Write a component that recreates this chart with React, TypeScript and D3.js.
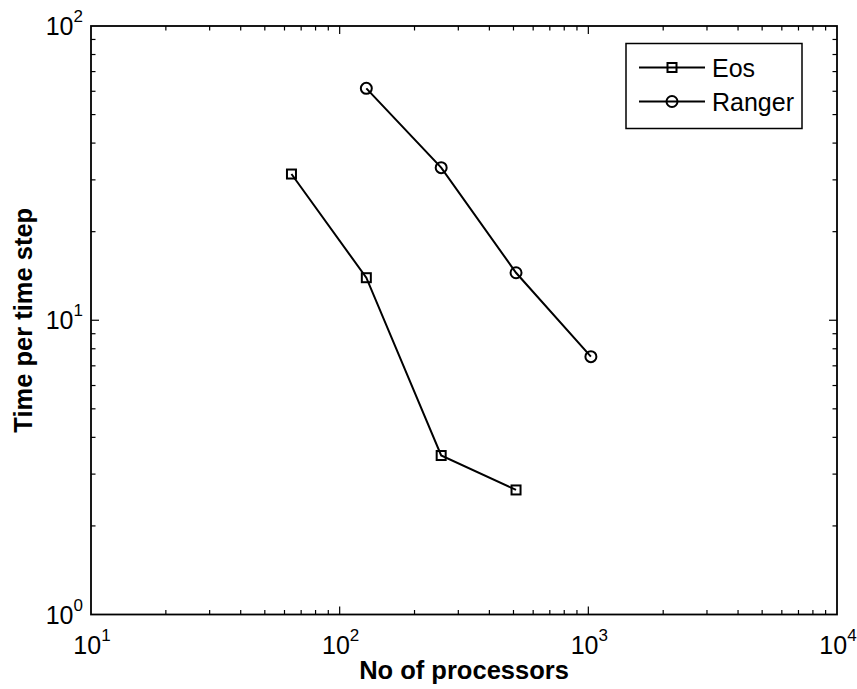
import React, { useEffect, useRef } from 'react';
import * as d3 from 'd3';

// processors / time per time step
const eosProcs = [64, 128, 256, 512];
const eosTime = [31.4, 13.95, 3.47, 2.65];
const rangerProcs = [128, 256, 512, 1024];
const rangerTime = [61.4, 33.0, 14.5, 7.52];
const xTickExps = [1, 2, 3, 4];
const yTickExps = [0, 1, 2];
const seriesNames = ['Eos', 'Ranger'];

const W = 857, H = 689;
const margin = { top: 26, right: 20, bottom: 74.5, left: 91 };

export default function App() {
  const ref = useRef<SVGSVGElement>(null);

  useEffect(() => {
    const svg = d3.select(ref.current);
    svg.selectAll('*').remove();
    const font = 'Arial, Liberation Sans, Helvetica, sans-serif';

    const x = d3.scaleLog().domain([10, 10000]).range([margin.left, W - margin.right]);
    const y = d3.scaleLog().domain([1, 100]).range([H - margin.bottom, margin.top]);
    const [x0, x1] = x.range();
    const [y0, y1] = y.range();

    svg.append('rect').attr('width', W).attr('height', H).attr('fill', '#fff');

    const g = svg.append('g');

    // minor + major ticks on all four sides
    const xt = x.ticks();
    xt.forEach(v => {
      const major = Math.abs(Math.log10(v) - Math.round(Math.log10(v))) < 1e-9;
      const len = major ? 8 : 4.5;
      const px = x(v);
      if (px <= x0 + 0.5 || px >= x1 - 0.5) return;
      g.append('line').attr('x1', px).attr('x2', px).attr('y1', y0).attr('y2', y0 - len);
      g.append('line').attr('x1', px).attr('x2', px).attr('y1', y1).attr('y2', y1 + len);
    });
    const yt = y.ticks();
    yt.forEach(v => {
      const major = Math.abs(Math.log10(v) - Math.round(Math.log10(v))) < 1e-9;
      const len = major ? 8 : 4.5;
      const py = y(v);
      if (py >= y0 - 0.5 || py <= y1 + 0.5) return;
      g.append('line').attr('y1', py).attr('y2', py).attr('x1', x0).attr('x2', x0 + len);
      g.append('line').attr('y1', py).attr('y2', py).attr('x1', x1).attr('x2', x1 - len);
    });
    g.selectAll('line').attr('stroke', '#000').attr('stroke-width', 1.2);

    svg.append('rect')
      .attr('x', x0).attr('y', y1).attr('width', x1 - x0).attr('height', y0 - y1)
      .attr('fill', 'none').attr('stroke', '#000').attr('stroke-width', 1.8);

    // tick labels
    xTickExps.forEach(e => {
      const t = svg.append('text')
        .attr('x', x(Math.pow(10, e)) + 1).attr('y', y0 + 39)
        .attr('text-anchor', 'middle').attr('font-family', font).attr('font-size', 25);
      t.append('tspan').text('10');
      t.append('tspan').attr('dy', -13).attr('font-size', 17).text(String(e));
    });
    yTickExps.forEach(e => {
      const t = svg.append('text')
        .attr('x', x0 - 8).attr('y', y(Math.pow(10, e)) + 9)
        .attr('text-anchor', 'end').attr('font-family', font).attr('font-size', 25);
      t.append('tspan').text('10');
      t.append('tspan').attr('dy', -13).attr('font-size', 17).text(String(e));
    });

    // axis titles
    svg.append('text')
      .attr('x', (x0 + x1) / 2).attr('y', 679)
      .attr('text-anchor', 'middle').attr('font-family', font)
      .attr('font-weight', 'bold').attr('font-size', 25.5)
      .text('No of processors');
    svg.append('text')
      .attr('transform', `translate(32, ${(y0 + y1) / 2}) rotate(-90)`)
      .attr('text-anchor', 'middle').attr('font-family', font)
      .attr('font-weight', 'bold').attr('font-size', 25.5)
      .text('Time per time step');

    const line = d3.line<[number, number]>().x(d => x(d[0])).y(d => y(d[1]));
    const eos: [number, number][] = eosProcs.map((p, i) => [p, eosTime[i]]);
    const ranger: [number, number][] = rangerProcs.map((p, i) => [p, rangerTime[i]]);

    const drawSquare = (sel: any, cx: number, cy: number) =>
      sel.append('rect').attr('x', cx - 4.5).attr('y', cy - 4.5).attr('width', 9).attr('height', 9)
        .attr('fill', 'none').attr('stroke', '#000').attr('stroke-width', 2);
    const drawCircle = (sel: any, cx: number, cy: number) =>
      sel.append('circle').attr('cx', cx).attr('cy', cy).attr('r', 5.5)
        .attr('fill', 'none').attr('stroke', '#000').attr('stroke-width', 2);

    [eos, ranger].forEach((data, si) => {
      svg.append('path').attr('d', line(data)).attr('fill', 'none')
        .attr('stroke', '#000').attr('stroke-width', 2);
      data.forEach(d => {
        if (si === 0) drawSquare(svg, x(d[0]), y(d[1]));
        else drawCircle(svg, x(d[0]), y(d[1]));
      });
    });

    // legend
    const lg = svg.append('g');
    lg.append('rect').attr('x', 626).attr('y', 43.5).attr('width', 176).attr('height', 85)
      .attr('fill', '#fff').attr('stroke', '#000').attr('stroke-width', 1.5);
    seriesNames.forEach((name, i) => {
      const cy = 67.5 + i * 34;
      lg.append('line').attr('x1', 639).attr('x2', 705).attr('y1', cy).attr('y2', cy)
        .attr('stroke', '#000').attr('stroke-width', 2);
      if (i === 0) drawSquare(lg, 672, cy); else drawCircle(lg, 672, cy);
      lg.append('text').attr('x', 712).attr('y', cy + 9)
        .attr('font-family', font).attr('font-size', 25).text(name);
    });
  }, []);

  return (
    <svg ref={ref} width={W} height={H}
      style={{ position: 'absolute', left: 0, top: 0, display: 'block' }} />
  );
}
